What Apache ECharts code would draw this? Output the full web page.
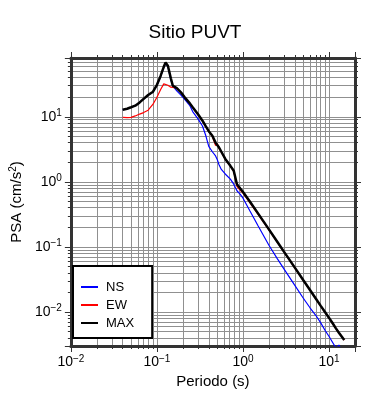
<!DOCTYPE html>
<html><head><meta charset="utf-8">
<script src="https://cdn.jsdelivr.net/npm/echarts@6/dist/echarts.min.js"></script>
<style>html,body{margin:0;padding:0;background:#fff}#c{width:390px;height:400px}</style>
</head><body><div id="c"></div>
<script>
const titleText = 'Sitio PUVT';
const xName = 'Periodo (s)';
const yName = 'PSA (cm/s{sup|2})';
const seriesNames = ['NS', 'EW', 'MAX'];
const seriesColors = ['#0000ff', '#ff0000', '#000000'];
const xRange = [0.01, 20];
const yRange = [0.003, 80];

const periods = [0.04, 0.045, 0.05, 0.056, 0.063, 0.07, 0.079, 0.09, 0.1, 0.11, 0.12, 0.126, 0.134, 0.145, 0.153,
  0.17, 0.19, 0.21, 0.24, 0.26, 0.3, 0.338, 0.37, 0.4, 0.44, 0.48, 0.5, 0.525, 0.56, 0.625, 0.713, 0.78, 0.85, 0.93,
  1.0, 1.2, 1.5, 2.0, 2.5, 3.0, 4.0, 5.0, 6.0, 7.0, 8.0, 9.0, 10.0, 11.0, 12.0, 13.0, 14.0, 15.0];
const ns = [12.8, 13.3, 14.0, 14.8, 16.6, 18.8, 21.4, 24.0, 30.5, 41.0, 57.0, 66.0, 59.0, 37.0, 29.5,
  25.0, 21.5, 18.5, 15.0, 12.0, 9.3, 7.2, 5.1, 3.5, 2.9, 2.5, 2.23, 1.85, 1.55, 1.31, 1.1, 0.92, 0.73, 0.64,
  0.56, 0.36, 0.21, 0.106, 0.066, 0.0455, 0.0256, 0.0164, 0.0116, 0.0089, 0.0068, 0.0052, 0.0042, 0.0034, 0.0028, 0.0031, 0.0026, 0.0023];
const ew = [9.8, 9.7, 9.8, 10.3, 11.0, 11.6, 12.6, 15.6, 20.0, 26.0, 32.0, 33.0, 30.5, 28.5, 28.3,
  27.6, 23.7, 19.8, 16.2, 14.0, 10.8, 8.6, 7.0, 6.0, 5.0, 3.6, 3.9, 3.3, 2.85, 2.2, 1.74, 1.45, 0.85, 0.74,
  0.67, 0.48, 0.315, 0.183, 0.118, 0.083, 0.0475, 0.0308, 0.0216, 0.016, 0.0123, 0.0098, 0.008, 0.0066, 0.0056, 0.0048, 0.0042, 0.0037];
const mx = [12.8, 13.3, 14.0, 14.8, 16.6, 18.8, 21.6, 24.3, 31.0, 42.0, 58.5, 68.0, 61.0, 39.0, 30.0,
  27.6, 23.7, 19.9, 16.2, 14.0, 10.9, 8.7, 7.1, 6.0, 5.1, 4.0, 4.1, 3.4, 2.9, 2.23, 1.76, 1.48, 0.92, 0.79,
  0.70, 0.50, 0.325, 0.186, 0.120, 0.084, 0.048, 0.031, 0.0218, 0.0161, 0.0124, 0.0099, 0.0081, 0.0067, 0.0056, 0.0048, 0.0042, 0.0037];

const FONT = 'Liberation Sans';
const frame = '#333333';
const gridCol = '#909090';

function expLabel(v) {
  const e = Math.log10(v);
  const r = Math.round(e);
  if (Math.abs(e - r) > 1e-6) return '';
  return '{b|10}{s|' + (r < 0 ? '\u2212' + (-r) : String(r)) + '}';
}
const labelRich = {
  b: { fontSize: 14, color: '#000', fontFamily: FONT },
  s: { fontSize: 10, color: '#000', fontFamily: FONT, padding: [0, 0, 7, 0] }
};

function axisBase(pos, main) {
  return {
    type: 'log', logBase: 10, position: pos,
    axisLine: { show: true, onZero: false, lineStyle: { color: frame, width: 3 } },
    axisTick: { show: true, inside: false, length: 6, lineStyle: { color: frame, width: 1 } },
    minorTick: { show: true, splitNumber: 9, length: 3, lineStyle: { color: frame, width: 1 } },
    splitLine: { show: main, lineStyle: { color: gridCol, width: 1 } },
    minorSplitLine: { show: main, lineStyle: { color: gridCol, width: 1 } },
    axisLabel: main ? { show: true, formatter: expLabel, rich: labelRich, showMinLabel: true, showMaxLabel: false } : { show: false }
  };
}

const xMain = Object.assign(axisBase('bottom', true), {
  min: xRange[0], max: xRange[1],
  name: xName, nameLocation: 'middle', nameGap: 28,
  nameTextStyle: { fontSize: 15, color: '#000', fontFamily: FONT }
});
xMain.axisLabel.margin = 8;
const xTop = Object.assign(axisBase('top', false), { min: xRange[0], max: xRange[1] });
const yMain = Object.assign(axisBase('left', true), {
  min: yRange[0], max: yRange[1],
  name: yName, nameLocation: 'middle', nameGap: 37, nameRotate: 90,
  nameTextStyle: { fontSize: 15, color: '#000', fontFamily: FONT,
    rich: { sup: { fontSize: 10, color: '#000', fontFamily: FONT, padding: [0, 0, 7, 0] } } }
});
yMain.axisLabel.margin = 9;
yMain.axisLabel.showMinLabel = false;
const yRight = Object.assign(axisBase('right', false), { min: yRange[0], max: yRange[1] });

function pairs(vals) { return periods.map((t, i) => [t, vals[i]]); }
const allVals = [ns, ew, mx];
const widths = [1.2, 1.2, 2.5];

const chart = echarts.init(document.getElementById('c'), null, { renderer: 'canvas' });
chart.setOption({
  animation: false,
  backgroundColor: '#fff',
  title: {
    text: titleText, left: 'center', top: 23, padding: [0, 0, 0, 32],
    textStyle: { fontSize: 19, fontWeight: 'normal', color: '#000', fontFamily: FONT }
  },
  grid: { left: 67, right: 35, top: 58, bottom: 54, containLabel: false },
  xAxis: [xMain, xTop],
  yAxis: [yMain, yRight],
  legend: {
    orient: 'vertical', left: 73, top: 266,
    padding: [13, 18, 7, 8],
    itemWidth: 17, itemHeight: 2, itemGap: 2,
    backgroundColor: '#fff', borderColor: '#000', borderWidth: 2, borderRadius: 0,
    textStyle: { fontSize: 13, lineHeight: 16, color: '#000', fontFamily: FONT, padding: [0, 0, 0, 3] },
    data: seriesNames.map((n) => ({ name: n, icon: 'rect' }))
  },
  series: seriesNames.map((n, i) => ({
    name: n, type: 'line', xAxisIndex: 0, yAxisIndex: 0,
    data: pairs(allVals[i]), showSymbol: false, symbol: 'none',
    lineStyle: { color: seriesColors[i], width: widths[i] },
    itemStyle: { color: seriesColors[i] },
    z: 2 + i, clip: true
  }))
});
</script></body></html>
